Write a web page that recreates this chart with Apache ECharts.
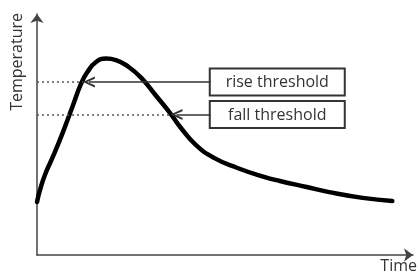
<!DOCTYPE html>
<html>
<head>
<meta charset="utf-8">
<script src="https://cdn.jsdelivr.net/npm/echarts@6/dist/echarts.min.js"></script>
<style>
	html, body {margin: 0; padding: 0; background: #fff;}
	#chart {width: 420px; height: 277px;}
</style>
</head>
<body>
<div id="chart"></div>
<script>
	// curve (time 0..100, temperature 0..100)
	var timeVals = [0, 0.8, 2.1, 4.2, 6.8, 9.4, 11.8, 13.4, 15.7, 18.4, 21.0, 24.4, 27.8, 31.5, 35.4, 38.3, 42.3, 47.2, 53.3, 60.4, 64.6, 71.7, 77.7, 86.6, 94.5];
	var tempVals = [22.0, 27.0, 33.2, 40.7, 50.6, 61.4, 71.4, 75.9, 80.1, 81.5, 80.9, 78.0, 73.4, 66.4, 58.9, 52.7, 45.6, 40.2, 36.1, 32.4, 30.7, 28.2, 26.1, 23.7, 22.4];

	var thresholdNames = ['rise threshold', 'fall threshold'];
	var thresholdVals = [71.8, 58.3];
	// time where each arrow touches the curve (rising / falling side)
	var crossTimes = [12.3, 35.6];
	var boxTime = 63.9;
	var boxEdge = 46.2;

	var font = '"Open Sans", sans-serif';
	var chevron = 'path://M0,10 L5,0 L10,10 L8,10 L5,3.6 L2,10 Z';

	var chart = echarts.init(document.getElementById('chart'));

	var axisBase = {
		type: 'value',
		min: 0,
		max: 100,
		axisLine: {
			show: true,
			symbol: ['none', 'arrow'],
			symbolSize: [10, 9],
			lineStyle: {color: '#444', width: 1.5}
		},
		axisTick: {show: false},
		axisLabel: {show: false},
		splitLine: {show: false}
	};

	var guideLines = [];
	thresholdVals.forEach(function(v, i){
		guideLines.push([
			{coord: [0, v], lineStyle: {type: [2, 3], width: 1.5, color: '#555'}, symbol: 'none'},
			{coord: [crossTimes[i], v], symbol: 'none'}
		]);
		guideLines.push([
			{coord: [boxEdge, v], lineStyle: {type: 'solid', width: 1.5, color: '#333'}},
			{coord: [crossTimes[i] + 1.5, v]}
		]);
	});

	var option = {
		animation: false,
		grid: {left: 37, right: 2, top: 14, bottom: 22}
	};

	option.xAxis = Object.assign({}, axisBase, {
		name: 'Time',
		nameLocation: 'end',
		nameGap: 4,
		nameTextStyle: {
			align: 'right', verticalAlign: 'top', padding: [3, 0, 0, 0],
			fontFamily: font, fontSize: 16, color: '#333'
		}
	});
	option.yAxis = Object.assign({}, axisBase, {
		name: 'Temperature',
		nameLocation: 'end',
		nameRotate: 90,
		nameGap: 1,
		nameTextStyle: {
			align: 'right', verticalAlign: 'bottom', padding: [0, 0, 12, 0],
			fontFamily: font, fontSize: 16, color: '#333'
		}
	});

	option.series = [{
		type: 'line',
		data: timeVals.map(function(t, i){ return [t, tempVals[i]]; }),
		smooth: 0.5,
		showSymbol: false,
		lineStyle: {color: '#000', width: 4.5, cap: 'round', join: 'round'},
		markLine: {
			silent: true,
			symbol: ['none', chevron],
			symbolSize: [11, 12],
			label: {show: false},
			data: guideLines
		},
		z: 2
	}, {
		type: 'custom',
		data: thresholdVals.map(function(v){ return [boxTime, v]; }),
		renderItem: function(params, api){
			var p = api.coord([api.value(0), api.value(1)]);
			return {
				type: 'group',
				children: [{
					type: 'rect',
					shape: {x: p[0] - 67.5, y: p[1] - 13.5, width: 135, height: 27},
					style: {fill: '#fff', stroke: '#333', lineWidth: 2}
				}, {
					type: 'text',
					style: {
						text: thresholdNames[params.dataIndex],
						x: p[0], y: p[1] + 0.5,
						align: 'center', verticalAlign: 'middle',
						font: '16px ' + font,
						fill: '#333'
					}
				}]
			};
		},
		z: 3
	}];

	chart.setOption(option);
</script>
</body>
</html>
